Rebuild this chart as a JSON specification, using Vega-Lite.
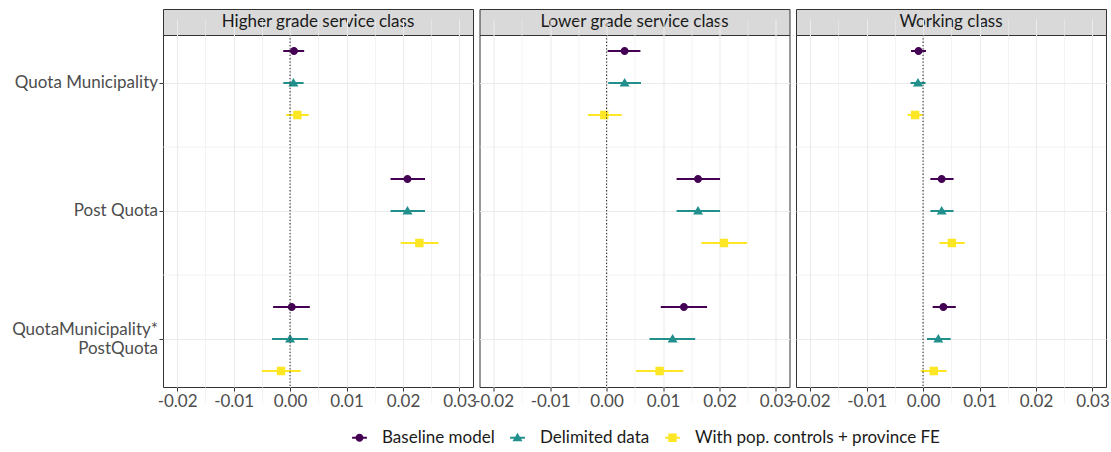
{
  "$schema": "https://vega.github.io/schema/vega-lite/v6.json",
  "padding": {"left": 11, "top": 8, "right": 4, "bottom": 0},
  "autosize": {"type": "pad"},
  "spacing": -4.5,
  "config": {
    "font": "Lato",
    "view": {"stroke": "#333333", "strokeWidth": 1}
  },
  "datasets": {
    "estimates": [
      {"class": "Higher grade service class", "term": "Quota Municipality", "model": "Baseline model", "estimate": 0.0007, "lo": -0.0012, "hi": 0.0025},
      {"class": "Higher grade service class", "term": "Quota Municipality", "model": "Delimited data", "estimate": 0.0006, "lo": -0.0012, "hi": 0.0024},
      {"class": "Higher grade service class", "term": "Quota Municipality", "model": "With pop. controls + province FE", "estimate": 0.0013, "lo": -0.0007, "hi": 0.0033},
      {"class": "Higher grade service class", "term": "Post Quota", "model": "Baseline model", "estimate": 0.0208, "lo": 0.0178, "hi": 0.0239},
      {"class": "Higher grade service class", "term": "Post Quota", "model": "Delimited data", "estimate": 0.0208, "lo": 0.0178, "hi": 0.0239},
      {"class": "Higher grade service class", "term": "Post Quota", "model": "With pop. controls + province FE", "estimate": 0.0229, "lo": 0.0196, "hi": 0.0263},
      {"class": "Higher grade service class", "term": "QuotaMunicipality*\nPostQuota", "model": "Baseline model", "estimate": 0.0003, "lo": -0.003, "hi": 0.0035},
      {"class": "Higher grade service class", "term": "QuotaMunicipality*\nPostQuota", "model": "Delimited data", "estimate": 0.0, "lo": -0.0032, "hi": 0.0032},
      {"class": "Higher grade service class", "term": "QuotaMunicipality*\nPostQuota", "model": "With pop. controls + province FE", "estimate": -0.0016, "lo": -0.005, "hi": 0.0019},
      {"class": "Lower grade service class", "term": "Quota Municipality", "model": "Baseline model", "estimate": 0.0032, "lo": 0.0002, "hi": 0.006},
      {"class": "Lower grade service class", "term": "Quota Municipality", "model": "Delimited data", "estimate": 0.0032, "lo": 0.0003, "hi": 0.0061},
      {"class": "Lower grade service class", "term": "Quota Municipality", "model": "With pop. controls + province FE", "estimate": -0.0004, "lo": -0.0033, "hi": 0.0027},
      {"class": "Lower grade service class", "term": "Post Quota", "model": "Baseline model", "estimate": 0.0162, "lo": 0.0124, "hi": 0.0201},
      {"class": "Lower grade service class", "term": "Post Quota", "model": "Delimited data", "estimate": 0.0162, "lo": 0.0124, "hi": 0.0201},
      {"class": "Lower grade service class", "term": "Post Quota", "model": "With pop. controls + province FE", "estimate": 0.0208, "lo": 0.0168, "hi": 0.0249},
      {"class": "Lower grade service class", "term": "QuotaMunicipality*\nPostQuota", "model": "Baseline model", "estimate": 0.0137, "lo": 0.0096, "hi": 0.0178},
      {"class": "Lower grade service class", "term": "QuotaMunicipality*\nPostQuota", "model": "Delimited data", "estimate": 0.0117, "lo": 0.0076, "hi": 0.0157},
      {"class": "Lower grade service class", "term": "QuotaMunicipality*\nPostQuota", "model": "With pop. controls + province FE", "estimate": 0.0094, "lo": 0.0052, "hi": 0.0136},
      {"class": "Working class", "term": "Quota Municipality", "model": "Baseline model", "estimate": -0.0008, "lo": -0.0021, "hi": 0.0005},
      {"class": "Working class", "term": "Quota Municipality", "model": "Delimited data", "estimate": -0.0009, "lo": -0.0021, "hi": 0.0004},
      {"class": "Working class", "term": "Quota Municipality", "model": "With pop. controls + province FE", "estimate": -0.0014, "lo": -0.0027, "hi": -0.0001},
      {"class": "Working class", "term": "Post Quota", "model": "Baseline model", "estimate": 0.0033, "lo": 0.0013, "hi": 0.0054},
      {"class": "Working class", "term": "Post Quota", "model": "Delimited data", "estimate": 0.0033, "lo": 0.0013, "hi": 0.0054},
      {"class": "Working class", "term": "Post Quota", "model": "With pop. controls + province FE", "estimate": 0.0051, "lo": 0.0029, "hi": 0.0074},
      {"class": "Working class", "term": "QuotaMunicipality*\nPostQuota", "model": "Baseline model", "estimate": 0.0036, "lo": 0.0017, "hi": 0.0058},
      {"class": "Working class", "term": "QuotaMunicipality*\nPostQuota", "model": "Delimited data", "estimate": 0.0027, "lo": 0.0007, "hi": 0.0049},
      {"class": "Working class", "term": "QuotaMunicipality*\nPostQuota", "model": "With pop. controls + province FE", "estimate": 0.0019, "lo": -0.0004, "hi": 0.0042}
    ]
  },
  "data": {"name": "estimates"},
  "resolve": {
    "scale": {"color": "shared", "shape": "shared"},
    "legend": {"color": "shared", "shape": "shared"}
  },
  "hconcat": [
    {
      "spacing": 0,
      "bounds": "flush",
      "vconcat": [
        {
          "width": 310, "height": 26,
          "view": {"fill": "#D9D9D9", "stroke": "#333333"},
          "transform": [{"filter": "datum.class === 'Higher grade service class' && datum.model === 'Baseline model' && datum.term === 'Post Quota'"}],
          "mark": {"type": "text", "fontSize": 17, "color": "#1A1A1A", "align": "center", "baseline": "middle"},
          "encoding": {"text": {"field": "class"}}
        },
        {
          "width": 310, "height": 352,
          "transform": [{"filter": "datum.class === 'Higher grade service class'"}],
          "encoding": {
            "y": {"field": "term", "type": "nominal",
                  "scale": {"domain": ["Quota Municipality", "Post Quota", "QuotaMunicipality*\nPostQuota"], "range": [-16, 368], "paddingInner": 0, "paddingOuter": 0},
                  "axis": {"bandPosition": 0.5, "title": null, "domain": false, "labelExpr": "split(datum.label, '\\n')", "labelLineHeight": 19,
                           "labelOffset": {"condition": {"test": "length(split(datum.value, '\\n')) > 1", "value": -9}, "value": 0},
                           "labelFontSize": 17, "labelColor": "#4D4D4D", "labelPadding": 1.5, "labelLimit": 0,
                           "tickSize": 4, "tickColor": "#333333", "grid": true, "gridColor": "#EBEBEB", "gridWidth": 1.1}},
            "yOffset": {"field": "model", "type": "nominal", "scale": {"domain": ["Baseline model", "Delimited data", "With pop. controls + province FE"], "paddingInner": 0, "paddingOuter": 0.5}},
            "x": {"field": "lo", "type": "quantitative", "scale": {"domain": [-0.0225, 0.0324], "nice": false, "zero": false},
                  "axis": {"title": null, "domain": false, "values": [-0.02, -0.015, -0.01, -0.005, 0, 0.005, 0.01, 0.015, 0.02, 0.025, 0.03],
                           "labelExpr": "abs(round(datum.value * 200)) % 2 === 0 ? replace(format(datum.value, '.2f'), '−', '-') : ''",
                           "labelFlush": false, "labelOverlap": false, "labelFontSize": 17, "labelColor": "#4D4D4D", "labelPadding": 2,
                           "tickSize": 4, "tickColor": "#333333",
                           "tickOpacity": {"condition": {"test": "abs(round(datum.value * 200)) % 2 === 1", "value": 0}, "value": 1},
                           "grid": true, "gridColor": "#EBEBEB",
                           "gridWidth": {"condition": {"test": "abs(round(datum.value * 200)) % 2 === 1", "value": 0.6}, "value": 1.1}}},
            "color": {"field": "model", "type": "nominal", "title": null,
                      "scale": {"domain": ["Baseline model", "Delimited data", "With pop. controls + province FE"], "range": ["#440154", "#21908C", "#FDE725"]},
                      "legend": {"orient": "none", "legendX": 188, "legendY": 420, "direction": "horizontal", "columns": 3,
                                 "symbolSize": 64, "symbolStrokeWidth": 0, "symbolOpacity": 1, "labelFontSize": 17, "labelColor": "#1A1A1A",
                                 "labelOffset": 14, "columnPadding": 14, "labelLimit": 0}}
          },
          "layer": [
            {
              "transform": [{"filter": "datum.model === 'Baseline model' && datum.term !== 'Quota Municipality'"}],
              "mark": {"type": "rule", "color": "#EBEBEB", "strokeWidth": 0.6},
              "encoding": {
                "y": {"field": "term", "type": "nominal", "bandPosition": 0},
                "yOffset": null, "x": null, "color": null
              }
            },
            {
              "mark": {"type": "rule", "strokeWidth": 2},
              "encoding": {"x2": {"field": "hi"}}
            },
            {
              "mark": {"type": "point", "filled": true, "opacity": 1, "size": 64, "strokeWidth": 0},
              "encoding": {
                "x": {"field": "estimate", "type": "quantitative"},
                "shape": {"field": "model", "type": "nominal", "title": null,
                          "scale": {"domain": ["Baseline model", "Delimited data", "With pop. controls + province FE"],
                                    "range": ["M-1.85,-0.25H1.85V0.25H-1.85Z M1,0A1,1 0 1,1 -1,0A1,1 0 1,1 1,0Z",
                                              "M-1.85,-0.25H1.85V0.25H-1.85Z M0,-1.25L1.25,0.9L-1.25,0.9Z",
                                              "M-1.85,-0.25H1.85V0.25H-1.85Z M-1.05,-1.05H1.05V1.05H-1.05Z"]},
                          "legend": {"orient": "none", "legendX": 188, "legendY": 420, "direction": "horizontal", "columns": 3,
                                     "symbolSize": 64, "symbolStrokeWidth": 0, "symbolOpacity": 1, "labelFontSize": 17, "labelColor": "#1A1A1A",
                                     "labelOffset": 14, "columnPadding": 14, "labelLimit": 0}}
              }
            },
            {
              "transform": [{"filter": "datum.model === 'Baseline model' && datum.term === 'Post Quota'"}],
              "mark": {"type": "rule", "color": "#333333", "strokeDash": [1.3, 2], "strokeWidth": 1.1},
              "encoding": {"x": {"datum": 0, "type": "quantitative"}, "y": null, "yOffset": null, "color": null}
            }
          ]
        }
      ]
    },
    {
      "spacing": 0,
      "bounds": "flush",
      "vconcat": [
        {
          "width": 310, "height": 26,
          "view": {"fill": "#D9D9D9", "stroke": "#333333"},
          "transform": [{"filter": "datum.class === 'Lower grade service class' && datum.model === 'Baseline model' && datum.term === 'Post Quota'"}],
          "mark": {"type": "text", "fontSize": 17, "color": "#1A1A1A", "align": "center", "baseline": "middle"},
          "encoding": {"text": {"field": "class"}}
        },
        {
          "width": 310, "height": 352,
          "transform": [{"filter": "datum.class === 'Lower grade service class'"}],
          "encoding": {
            "y": {"field": "term", "type": "nominal",
                  "scale": {"domain": ["Quota Municipality", "Post Quota", "QuotaMunicipality*\nPostQuota"], "range": [-16, 368], "paddingInner": 0, "paddingOuter": 0},
                  "axis": {"bandPosition": 0.5, "title": null, "domain": false, "labels": false, "ticks": false,
                           "grid": true, "gridColor": "#EBEBEB", "gridWidth": 1.1}},
            "yOffset": {"field": "model", "type": "nominal", "scale": {"domain": ["Baseline model", "Delimited data", "With pop. controls + province FE"], "paddingInner": 0, "paddingOuter": 0.5}},
            "x": {"field": "lo", "type": "quantitative", "scale": {"domain": [-0.0225, 0.0324], "nice": false, "zero": false},
                  "axis": {"title": null, "domain": false, "values": [-0.02, -0.015, -0.01, -0.005, 0, 0.005, 0.01, 0.015, 0.02, 0.025, 0.03],
                           "labelExpr": "abs(round(datum.value * 200)) % 2 === 0 ? replace(format(datum.value, '.2f'), '−', '-') : ''",
                           "labelFlush": false, "labelOverlap": false, "labelFontSize": 17, "labelColor": "#4D4D4D", "labelPadding": 2,
                           "tickSize": 4, "tickColor": "#333333",
                           "tickOpacity": {"condition": {"test": "abs(round(datum.value * 200)) % 2 === 1", "value": 0}, "value": 1},
                           "grid": true, "gridColor": "#EBEBEB",
                           "gridWidth": {"condition": {"test": "abs(round(datum.value * 200)) % 2 === 1", "value": 0.6}, "value": 1.1}}},
            "color": {"field": "model", "type": "nominal", "title": null,
                      "scale": {"domain": ["Baseline model", "Delimited data", "With pop. controls + province FE"], "range": ["#440154", "#21908C", "#FDE725"]}}
          },
          "layer": [
            {
              "transform": [{"filter": "datum.model === 'Baseline model' && datum.term !== 'Quota Municipality'"}],
              "mark": {"type": "rule", "color": "#EBEBEB", "strokeWidth": 0.6},
              "encoding": {
                "y": {"field": "term", "type": "nominal", "bandPosition": 0},
                "yOffset": null, "x": null, "color": null
              }
            },
            {
              "mark": {"type": "rule", "strokeWidth": 2},
              "encoding": {"x2": {"field": "hi"}}
            },
            {
              "mark": {"type": "point", "filled": true, "opacity": 1, "size": 64, "strokeWidth": 0},
              "encoding": {
                "x": {"field": "estimate", "type": "quantitative"},
                "shape": {"field": "model", "type": "nominal", "title": null,
                          "scale": {"domain": ["Baseline model", "Delimited data", "With pop. controls + province FE"],
                                    "range": ["M-1.85,-0.25H1.85V0.25H-1.85Z M1,0A1,1 0 1,1 -1,0A1,1 0 1,1 1,0Z",
                                              "M-1.85,-0.25H1.85V0.25H-1.85Z M0,-1.25L1.25,0.9L-1.25,0.9Z",
                                              "M-1.85,-0.25H1.85V0.25H-1.85Z M-1.05,-1.05H1.05V1.05H-1.05Z"]}}
              }
            },
            {
              "transform": [{"filter": "datum.model === 'Baseline model' && datum.term === 'Post Quota'"}],
              "mark": {"type": "rule", "color": "#333333", "strokeDash": [1.3, 2], "strokeWidth": 1.1},
              "encoding": {"x": {"datum": 0, "type": "quantitative"}, "y": null, "yOffset": null, "color": null}
            }
          ]
        }
      ]
    },
    {
      "spacing": 0,
      "bounds": "flush",
      "vconcat": [
        {
          "width": 310, "height": 26,
          "view": {"fill": "#D9D9D9", "stroke": "#333333"},
          "transform": [{"filter": "datum.class === 'Working class' && datum.model === 'Baseline model' && datum.term === 'Post Quota'"}],
          "mark": {"type": "text", "fontSize": 17, "color": "#1A1A1A", "align": "center", "baseline": "middle"},
          "encoding": {"text": {"field": "class"}}
        },
        {
          "width": 310, "height": 352,
          "transform": [{"filter": "datum.class === 'Working class'"}],
          "encoding": {
            "y": {"field": "term", "type": "nominal",
                  "scale": {"domain": ["Quota Municipality", "Post Quota", "QuotaMunicipality*\nPostQuota"], "range": [-16, 368], "paddingInner": 0, "paddingOuter": 0},
                  "axis": {"bandPosition": 0.5, "title": null, "domain": false, "labels": false, "ticks": false,
                           "grid": true, "gridColor": "#EBEBEB", "gridWidth": 1.1}},
            "yOffset": {"field": "model", "type": "nominal", "scale": {"domain": ["Baseline model", "Delimited data", "With pop. controls + province FE"], "paddingInner": 0, "paddingOuter": 0.5}},
            "x": {"field": "lo", "type": "quantitative", "scale": {"domain": [-0.0225, 0.0324], "nice": false, "zero": false},
                  "axis": {"title": null, "domain": false, "values": [-0.02, -0.015, -0.01, -0.005, 0, 0.005, 0.01, 0.015, 0.02, 0.025, 0.03],
                           "labelExpr": "abs(round(datum.value * 200)) % 2 === 0 ? replace(format(datum.value, '.2f'), '−', '-') : ''",
                           "labelFlush": false, "labelOverlap": false, "labelFontSize": 17, "labelColor": "#4D4D4D", "labelPadding": 2,
                           "tickSize": 4, "tickColor": "#333333",
                           "tickOpacity": {"condition": {"test": "abs(round(datum.value * 200)) % 2 === 1", "value": 0}, "value": 1},
                           "grid": true, "gridColor": "#EBEBEB",
                           "gridWidth": {"condition": {"test": "abs(round(datum.value * 200)) % 2 === 1", "value": 0.6}, "value": 1.1}}},
            "color": {"field": "model", "type": "nominal", "title": null,
                      "scale": {"domain": ["Baseline model", "Delimited data", "With pop. controls + province FE"], "range": ["#440154", "#21908C", "#FDE725"]}}
          },
          "layer": [
            {
              "transform": [{"filter": "datum.model === 'Baseline model' && datum.term !== 'Quota Municipality'"}],
              "mark": {"type": "rule", "color": "#EBEBEB", "strokeWidth": 0.6},
              "encoding": {
                "y": {"field": "term", "type": "nominal", "bandPosition": 0},
                "yOffset": null, "x": null, "color": null
              }
            },
            {
              "mark": {"type": "rule", "strokeWidth": 2},
              "encoding": {"x2": {"field": "hi"}}
            },
            {
              "mark": {"type": "point", "filled": true, "opacity": 1, "size": 64, "strokeWidth": 0},
              "encoding": {
                "x": {"field": "estimate", "type": "quantitative"},
                "shape": {"field": "model", "type": "nominal", "title": null,
                          "scale": {"domain": ["Baseline model", "Delimited data", "With pop. controls + province FE"],
                                    "range": ["M-1.85,-0.25H1.85V0.25H-1.85Z M1,0A1,1 0 1,1 -1,0A1,1 0 1,1 1,0Z",
                                              "M-1.85,-0.25H1.85V0.25H-1.85Z M0,-1.25L1.25,0.9L-1.25,0.9Z",
                                              "M-1.85,-0.25H1.85V0.25H-1.85Z M-1.05,-1.05H1.05V1.05H-1.05Z"]}}
              }
            },
            {
              "transform": [{"filter": "datum.model === 'Baseline model' && datum.term === 'Post Quota'"}],
              "mark": {"type": "rule", "color": "#333333", "strokeDash": [1.3, 2], "strokeWidth": 1.1},
              "encoding": {"x": {"datum": 0, "type": "quantitative"}, "y": null, "yOffset": null, "color": null}
            }
          ]
        }
      ]
    }
  ]
}
